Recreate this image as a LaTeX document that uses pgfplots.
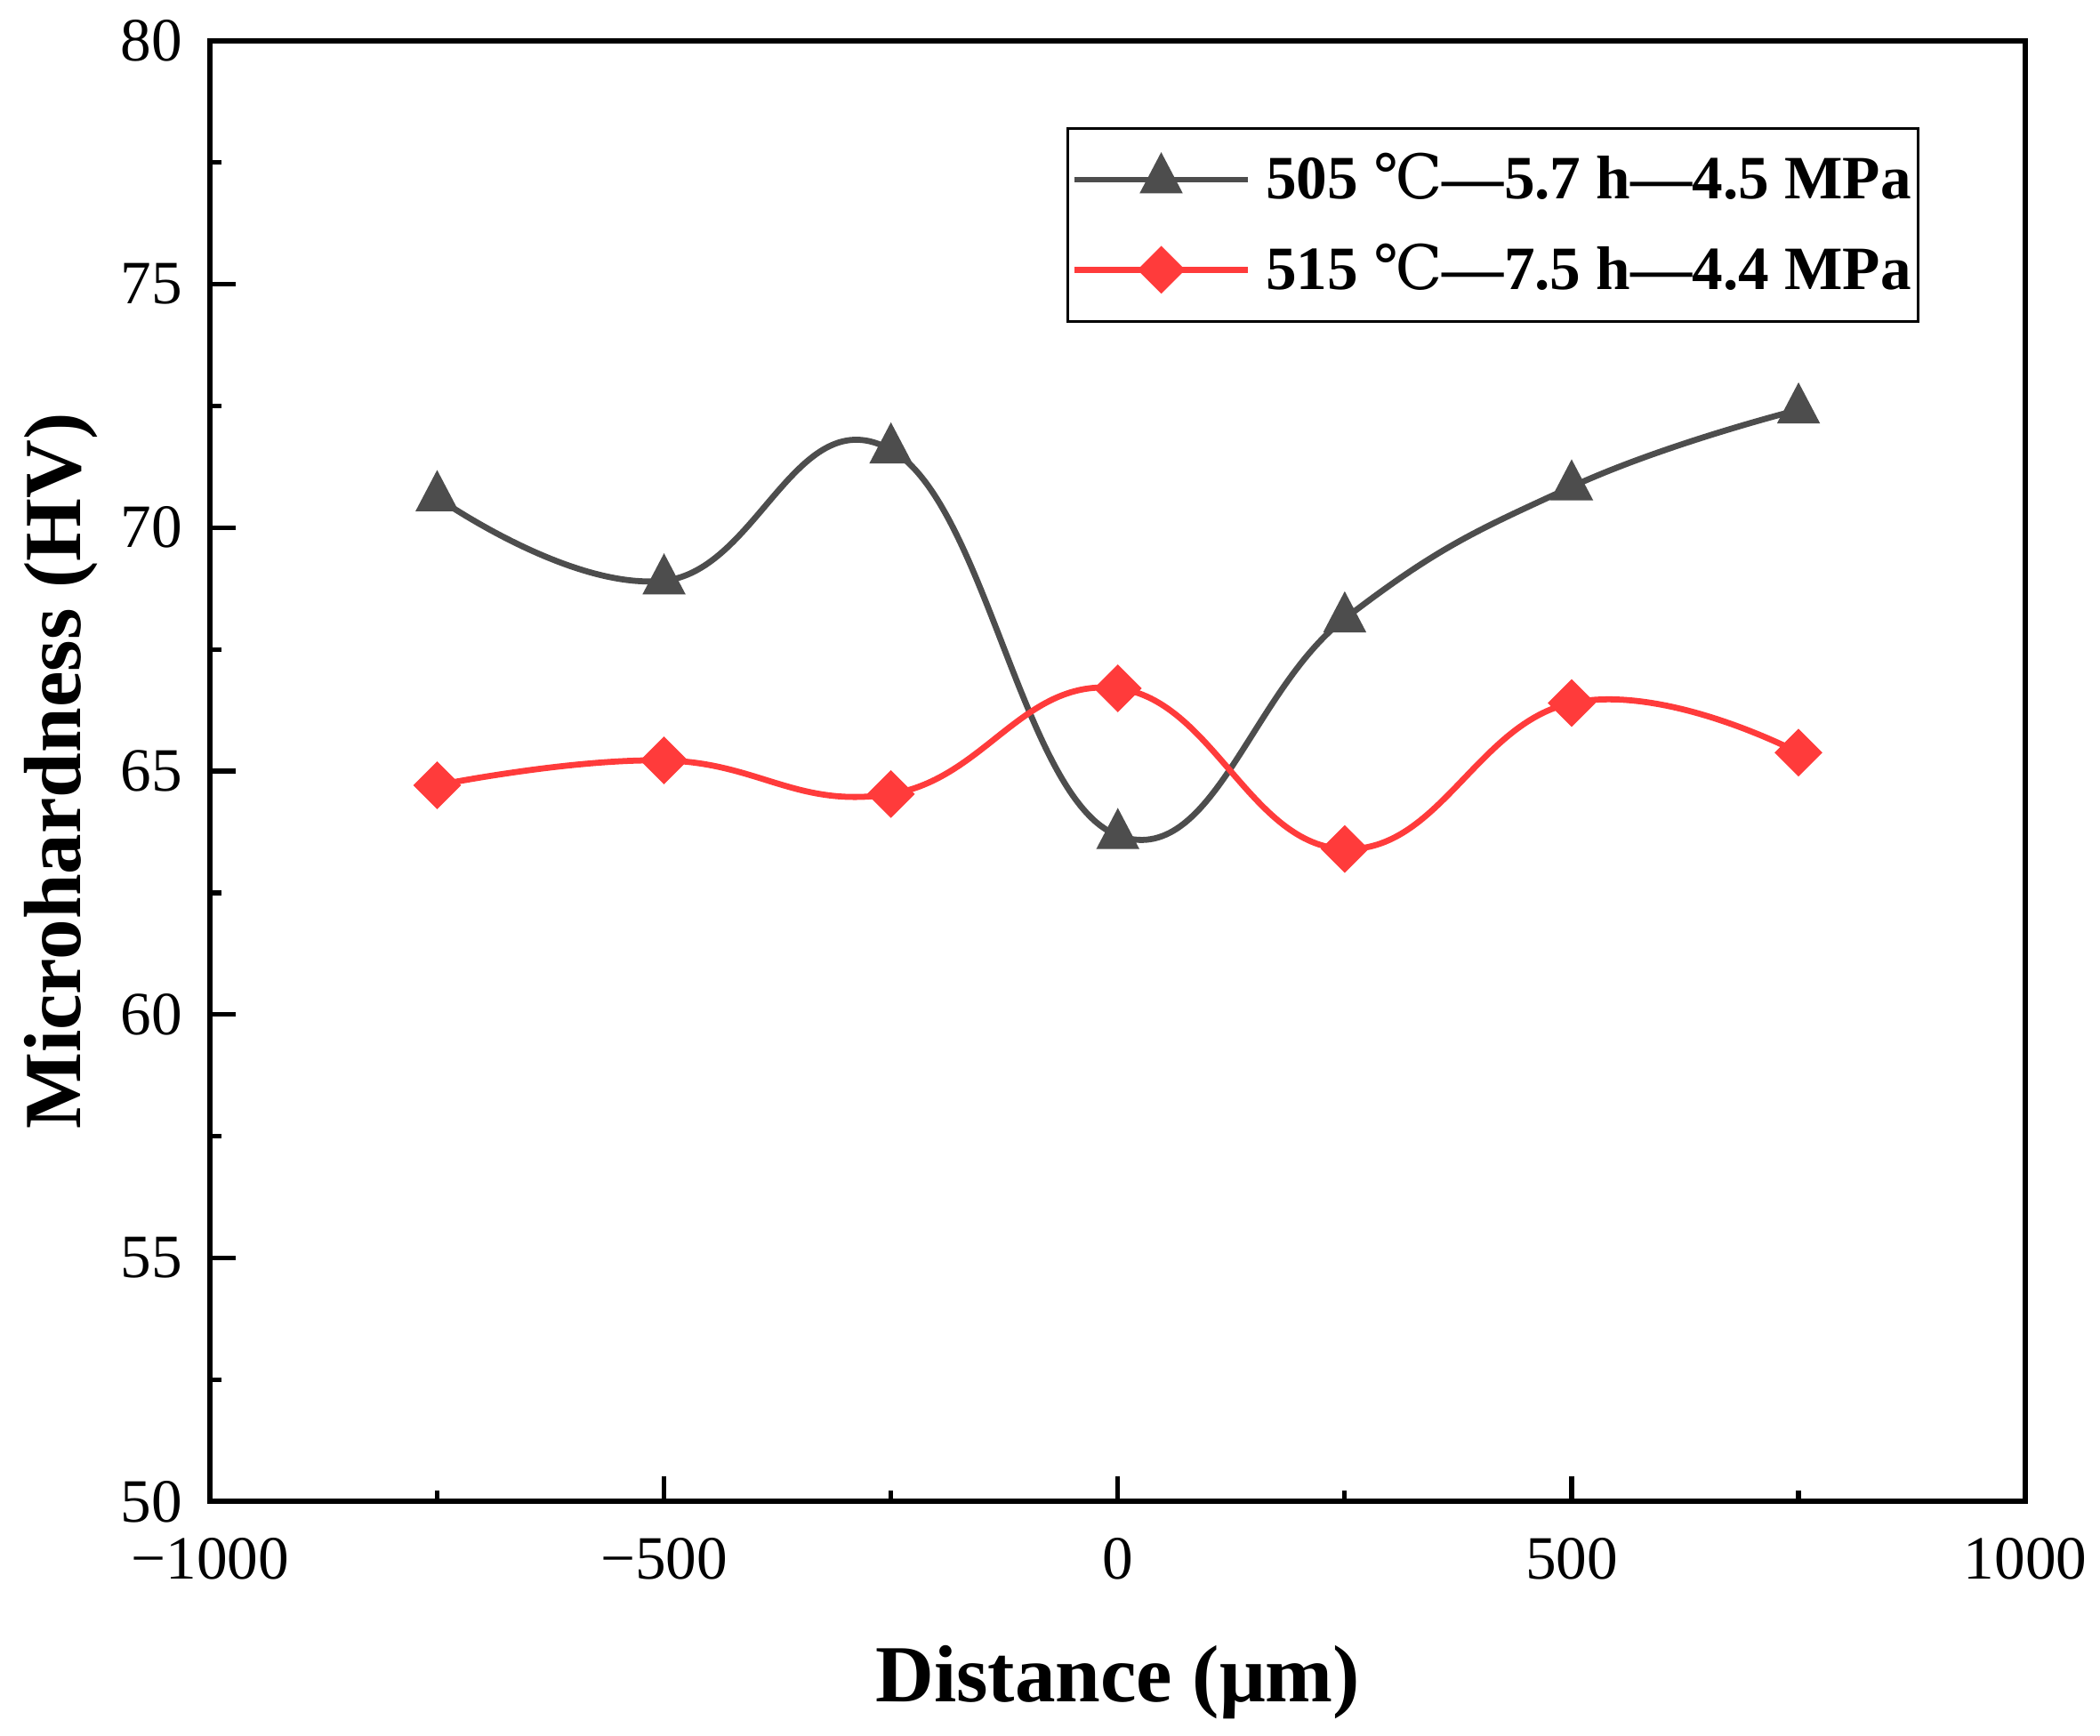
\documentclass[border=0pt]{standalone}
\usepackage{fontspec}
\setmainfont{Liberation Serif}
\newfontfamily\dejavu{DejaVu Serif}
\usepackage{pgfplots}
\pgfplotsset{compat=1.18}
\definecolor{cgray}{RGB}{77,77,77}
\definecolor{cred}{RGB}{255,59,59}
\begin{document}
\begin{tikzpicture}
\useasboundingbox (-45.4pt,-50.5pt) rectangle (408.1pt,324.3pt);
\begin{axis}[
  at={(0,0)}, anchor=south west,
  scale only axis, width=392pt, height=315.5pt,
  xmin=-1000, xmax=1000, ymin=50, ymax=80,
  xtick={-1000,-500,0,500,1000},
  xticklabels={−1000,−500,0,500,1000},
  ytick={50,55,...,80},
  minor xtick={-750,-250,250,750},
  minor ytick={52.5,57.5,...,77.5},
  tick align=inside, xtick pos=bottom, ytick pos=left,
  major tick length=5.5pt, minor tick length=2.4pt,
  every tick/.style={black, line width=1pt},
  axis line style={line width=1.1pt},
  tick label style={font=\fontsize{13.3}{16}\selectfont},
  /pgf/number format/assume math mode=true,
  yticklabel style={xshift=-2.5pt},
  xticklabel style={yshift=-4.3pt},
  xlabel={Distance (μm)}, ylabel={Microhardness (HV)},
  label style={font=\bfseries\fontsize{17.5}{20}\selectfont},
  xlabel style={at={(axis description cs:0.5,-0.137)}, anchor=base},
  ylabel style={at={(axis description cs:-0.0717,0.5)}, anchor=base},
  legend style={at={(0.9417,0.941)}, anchor=north east, draw=black, line width=0.6pt,
    font=\bfseries\fontsize{13.3}{16}\selectfont, cells={anchor=west},
    inner xsep=0.7pt, inner ysep=3.4pt, row sep=4.1pt, column sep=2.4pt,
    nodes={inner xsep=0.8pt, inner ysep=2pt}},
  legend image code/.code={\draw[mark repeat=2,mark phase=2,#1] plot coordinates {(0pt,0pt)(18.75pt,0pt)(37.5pt,0pt)};},
]
\addplot[cgray, line width=1.3pt, smooth, tension=0.75, mark=triangle*, mark size=5.1pt,
  mark options={solid, yscale=1.1, line width=0.3pt}] coordinates {
  (-750,70.62) (-500,68.91) (-250,71.60) (0,63.68) (250,68.13) (500,70.84) (750,72.42)};
\addlegendentry{505 {\dejavu\mdseries ℃}—5.7 h—4.5 MPa}
\addplot[cred, line width=1.3pt, smooth, tension=0.75, mark=square*, mark size=3.5pt,
  mark options={solid, rotate=45, line width=0.3pt}] coordinates {
  (-750,64.71) (-500,65.22) (-250,64.53) (0,66.70) (250,63.40) (500,66.40) (750,65.38)};
\addlegendentry{515 {\dejavu\mdseries ℃}—7.5 h—4.4 MPa}
\end{axis}
\end{tikzpicture}
\end{document}
